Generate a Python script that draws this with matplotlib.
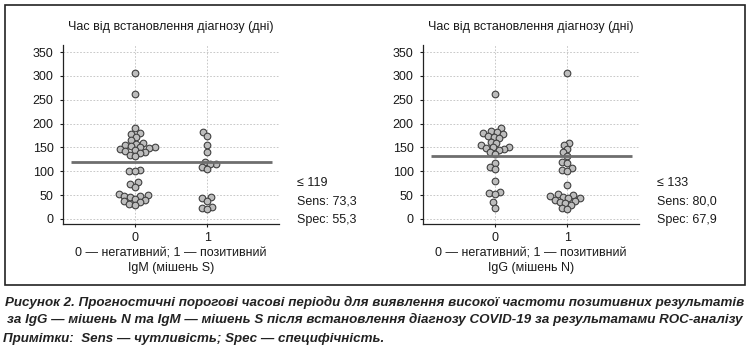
import matplotlib
matplotlib.use('Agg')
import matplotlib.pyplot as plt
from matplotlib.patches import Rectangle

# Time from diagnosis (days)
# IgM (target S)
igm_neg = [307, 262,
           190, 181, 179, 172, 165, 160, 158, 155, 153, 150, 150, 148, 147,
           145, 143, 140, 138, 135, 132,
           103, 101, 100, 78, 73, 68,
           53, 50, 49, 48, 46, 42, 40, 37, 35, 32, 30]
igm_pos = [182, 175, 155, 140,
           119, 116, 115, 108, 105,
           47, 43, 38, 25, 23, 21]
# IgG (target N)
igg_neg = [262,
           190, 185, 182, 180, 178, 175, 172, 170, 162, 160, 155, 150, 150,
           148, 146, 145, 140, 136,
           118, 110, 104, 80, 57, 54, 52, 35, 24]
igg_pos = [307, 160, 156, 147, 140, 133,
           120, 117, 106, 103, 101, 72,
           52, 50, 48, 47, 45, 43, 40, 38, 36, 33, 30, 23, 22]

cutoffs = [119, 133]
sens = ['73,3', '80,0']
spec = ['55,3', '67,9']
xlabels = ['0 — негативний; 1 — позитивний\nIgM (мішень S)',
           '0 — негативний; 1 — позитивний\nIgG (мішень N)']
ytitle = 'Час від встановлення діагнозу (дні)'
caption = ('Рисунок 2. Прогностичні порогові часові періоди для виявлення високої частоти позитивних результатів\n'
           'за IgG — мішень N та IgM — мішень S після встановлення діагнозу COVID-19 за результатами ROC-аналізу')
note = 'Примітки:  Sens — чутливість; Spec — специфічність.'

plt.rcParams['font.family'] = ['Liberation Sans', 'DejaVu Sans']
txt = '#1a1a1a'

AX_W, AX_H = 0.289, 0.51
XLIM, YLIM = (-1, 2), (-10.5, 364.7)
SX = AX_W * 750 / (XLIM[1] - XLIM[0])      # px per x unit
SY = AX_H * 351 / (YLIM[1] - YLIM[0])      # px per y unit


def swarm(vals, center, d=5.6):
    # simple beeswarm: push each point sideways until it clears the others
    order = sorted(range(len(vals)), key=lambda k: vals[k])
    placed = []
    xs = [0.0] * len(vals)
    for k in order:
        y = vals[k] * SY
        cands = [0.0]
        for px, py in placed:
            dy = abs(py - y)
            if dy < d:
                dx = (d * d - dy * dy) ** 0.5
                cands += [px - dx, px + dx]
        cands.sort(key=abs)
        for c in cands:
            if all((c - px) ** 2 + (y - py) ** 2 >= d * d - 1e-6 for px, py in placed):
                break
        placed.append((c, y))
        xs[k] = center + c / SX
    return xs


fig = plt.figure(figsize=(7.5, 3.51), dpi=100)
fig.patches.append(Rectangle((5 / 750, 1 - 285 / 351), 740 / 750, 280 / 351,
                             transform=fig.transFigure, fill=False,
                             edgecolor='#222222', lw=1.2))

panels = [(igm_neg, igm_pos, 0.0836), (igg_neg, igg_pos, 0.5636)]
for i, (neg, pos, left) in enumerate(panels):
    ax = fig.add_axes([left, 0.3618, AX_W, AX_H])
    for g, vals in enumerate([neg, pos]):
        ax.scatter(swarm(vals, g), vals, s=23, color='#bdbdbd',
                   edgecolor='#404040', linewidth=0.8, zorder=3)
    ax.hlines(cutoffs[i], -0.88, 1.89, color='#6e6e6e', lw=2, zorder=4)
    ax.set_xlim(*XLIM)
    ax.set_ylim(*YLIM)
    ax.set_yticks(range(0, 351, 50))
    ax.set_xticks([0, 1])
    ax.set_xticklabels(['0', '1'])
    ax.grid(True, color='#bfbfbf', ls=(0, (2, 2)), lw=0.6, zorder=0)
    ax.set_axisbelow(True)
    for s in ['top', 'right']:
        ax.spines[s].set_visible(False)
    for s in ['left', 'bottom']:
        ax.spines[s].set_linewidth(0.9)
        ax.spines[s].set_color('#222222')
    ax.tick_params(axis='y', length=2.5, width=0.8, pad=4, labelsize=9, colors=txt)
    ax.tick_params(axis='x', length=2.5, width=0.8, pad=3, labelsize=9, colors=txt)
    ax.set_xlabel(xlabels[i], fontsize=9, color=txt, labelpad=3, linespacing=1.2)
    cx = left + AX_W / 2
    fig.text(cx, 1 - 27 / 351, ytitle, ha='center', va='center', fontsize=9, color=txt)
    tx = (297 if i == 0 else 656.7) / 750
    fig.text(tx, 1 - 183 / 351, f'≤ {cutoffs[i]}', va='center', fontsize=9, color=txt)
    fig.text(tx, 1 - 202 / 351, f'Sens: {sens[i]}', va='center', fontsize=9, color=txt)
    fig.text(tx, 1 - 220 / 351, f'Spec: {spec[i]}', va='center', fontsize=9, color=txt)

fig.text(0.5, 1 - 311 / 351, caption, ha='center', va='center', fontsize=9.6,
         weight='bold', style='italic', color='#222222', linespacing=1.3)
fig.text(3 / 750, 1 - 339 / 351, note, ha='left', va='center', fontsize=9.6,
         weight='bold', style='italic', color='#222222')

fig.savefig('out.png', dpi=100)
